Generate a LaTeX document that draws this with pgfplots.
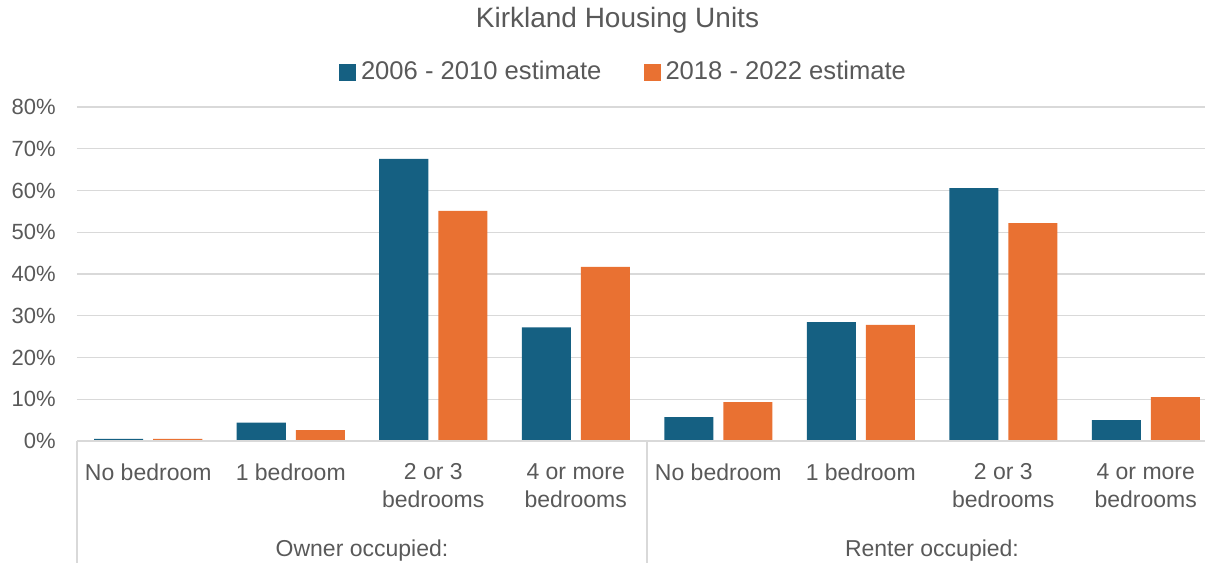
\documentclass[border=0pt]{standalone}
\usepackage{pgfplots}
\pgfplotsset{compat=1.18}
\usepackage{fontspec}
\setmainfont{Liberation Sans}
\definecolor{cblue}{HTML}{156082}
\definecolor{corange}{HTML}{E97132}
\definecolor{ctext}{HTML}{595959}
\definecolor{cgrid}{HTML}{D9D9D9}
\pgfplotsset{sqleg/.style={legend image code/.code={\fill[##1] (0pt,-4.25pt) rectangle (8.5pt,4.25pt); \path (10pt,0pt);}}}
\begin{document}
\begin{tikzpicture}
\path[use as bounding box] (0,0) rectangle (602.5pt,281.5pt);
\begin{axis}[
  at={(38.5pt,61pt)}, anchor=south west,
  scale only axis, width=570pt, height=167pt,
  xmin=-0.5, xmax=7.5, ymin=0, ymax=80,
  ybar=5pt, bar width=24.5pt,
  xtick={0,...,7},
  xticklabels={No bedroom, 1 bedroom, {2 or 3\\bedrooms}, {4 or more\\bedrooms}, No bedroom, 1 bedroom, {2 or 3\\bedrooms}, {4 or more\\bedrooms}},
  ytick={0,10,...,80},
  yticklabels={0\%,10\%,20\%,30\%,40\%,50\%,60\%,70\%,80\%},
  ymajorgrids, grid style={cgrid, line width=0.65pt},
  major tick length=0pt,
  axis line style={draw=none},
  tick label style={text=ctext},
  yticklabel style={font=\fontsize{11}{13}\selectfont, inner sep=0pt, xshift=-10.5pt},
  xticklabel style={font=\fontsize{11.5}{14}\selectfont, align=center, anchor=north, inner sep=0pt, yshift=-11pt},
  clip=false,
  legend columns=2,
  legend style={at={(axis description cs:0.4794,1.1048)}, anchor=center, draw=none, fill=none, inner sep=0pt,
    /tikz/every even column/.append style={column sep=20pt},
    font=\fontsize{12.8}{14}\selectfont, text=ctext,
    nodes={inner sep=1pt}},
  legend cell align=left,
]
\addplot[fill=cblue, draw=none, sqleg] coordinates {(0,0.5) (1,4.4) (2,67.6) (3,27.2) (4,5.7) (5,28.5) (6,60.6) (7,5.0)};
\addplot[fill=corange, draw=none, sqleg] coordinates {(0,0.5) (1,2.6) (2,55.1) (3,41.7) (4,9.3) (5,27.8) (6,52.2) (7,10.5)};
\legend{2006 - 2010 estimate, 2018 - 2022 estimate}
\draw[cgrid, line width=0.65pt] (axis cs:-0.5,0) -- (axis cs:7.5,0);
\draw[cgrid, line width=0.65pt] (axis cs:-0.5,0) -- ([yshift=-61pt]axis cs:-0.5,0);
\draw[cgrid, line width=0.65pt] (axis cs:3.5,0) -- ([yshift=-61pt]axis cs:3.5,0);
\draw[cgrid, line width=0.65pt] (axis cs:7.5,0) -- ([yshift=-61pt]axis cs:7.5,0);
\node[anchor=base, font=\fontsize{11.5}{14}\selectfont, text=ctext] at ([yshift=-57.6pt]axis cs:1.5,0) {Owner occupied:};
\node[anchor=base, font=\fontsize{11.5}{14}\selectfont, text=ctext] at ([yshift=-57.6pt]axis cs:5.5,0) {Renter occupied:};
\node[font=\fontsize{14}{16}\selectfont, text=ctext] at (axis description cs:0.4741,1.2605) {Kirkland Housing Units};
\end{axis}
\end{tikzpicture}
\end{document}
